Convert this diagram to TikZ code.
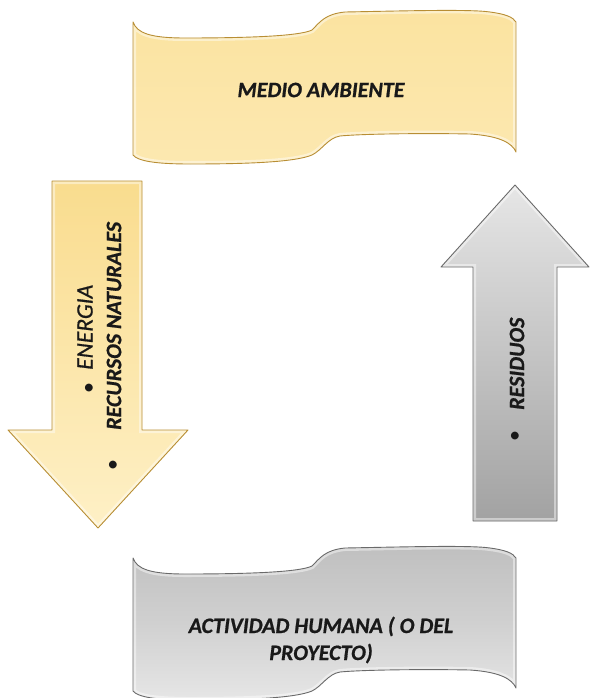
\documentclass[tikz,border=0pt]{standalone}
\usepackage{fontspec}
\setmainfont[BoldItalicFeatures={FakeBold=0.8}, ItalicFeatures={FakeBold=0.7}]{Carlito}
\definecolor{yelA}{HTML}{F9DC8E}
\definecolor{yelB}{HTML}{FEF0C6}
\definecolor{yelC}{HTML}{FBE3A0}
\definecolor{yelD}{HTML}{FCE8B0}
\definecolor{yelEdge}{HTML}{B88E34}
\definecolor{grayA}{HTML}{E6E6E6}
\definecolor{grayB}{HTML}{A2A2A2}
\definecolor{grayC}{HTML}{D0D0D0}
\definecolor{grayEdge}{HTML}{6A6A6A}
\newcommand\bevelshape[3]{%
  \begin{scope}
    \path[#2] #1;
    \clip #1;
    \draw[line width=6pt, white, opacity=0.45] #1;
  \end{scope}
  \draw[#3, line width=0.9pt, line join=round] #1;
}
\newcommand\wavepath{(133,22) .. controls (137,33) and (150,38) .. (185,38)
  .. controls (250,38) and (300,36) .. (312,30)
  .. controls (320,22) and (325,14) .. (345,12)
  .. controls (400,11) and (470,9) .. (490,12)
  .. controls (505,14) and (513,17) .. (516,22)
  -- (516,152)
  .. controls (512,143) and (500,136) .. (470,134)
  .. controls (420,133) and (360,134) .. (340,136)
  .. controls (328,138) and (322,150) .. (312,155)
  .. controls (295,162) and (250,164) .. (190,164)
  .. controls (155,164) and (138,161) .. (133,155) -- cycle}
\tikzset{
  lbl/.style={font=\fontsize{22}{27}\selectfont\bfseries\itshape, inner sep=0pt, text=black!90},
  lblit/.style={font=\fontsize{23.5}{27}\selectfont\itshape, inner sep=0pt, text=black!90},
  bul/.style={font=\fontsize{22}{27}\selectfont, inner sep=0pt, text=black!90},
}
\begin{document}
\begin{tikzpicture}[x=1pt, y=-1pt]
\useasboundingbox (0,0) rectangle (589,698);
% top banner
\bevelshape{\wavepath}{top color=yelC, bottom color=yelD}{yelEdge}
% bottom banner
\begin{scope}[shift={(0,536)}]
\bevelshape{\wavepath}{top color=grayC!92!black, bottom color=grayA, middle color=grayC}{grayEdge}
\end{scope}
% left arrow
\bevelshape{(52,181) -- (142,181) -- (142,430) -- (188,430) -- (98,528) -- (8,430) -- (52,430) -- cycle}{top color=yelA, bottom color=yelB}{yelEdge}
% right arrow
\bevelshape{(473,521) -- (557,521) -- (557,267) -- (589,267) -- (515,185) -- (441,267) -- (473,267) -- cycle}{top color=grayA, bottom color=grayB}{grayEdge}
% texts
\node[lbl] (medio) at (321,90) {MEDIO AMBIENTE};
\node[lbl, align=center] (actividad) at (321,640) {ACTIVIDAD HUMANA ( O DEL\\PROYECTO)};
\node[bul, rotate=90] (b1) at (90,388) {•};
\node[lblit, rotate=90, anchor=west] (energia) at (85,370) {ENERGIA};
\node[bul, rotate=90] (b2) at (114,465) {•};
\node[lbl, rotate=90, anchor=west] (recursos) at (114,430) {RECURSOS NATURALES};
\node[bul, rotate=90] (b3) at (516,436) {•};
\node[lbl, rotate=90, anchor=west] (residuos) at (517,410) {RESIDUOS};
\end{tikzpicture}
\end{document}
